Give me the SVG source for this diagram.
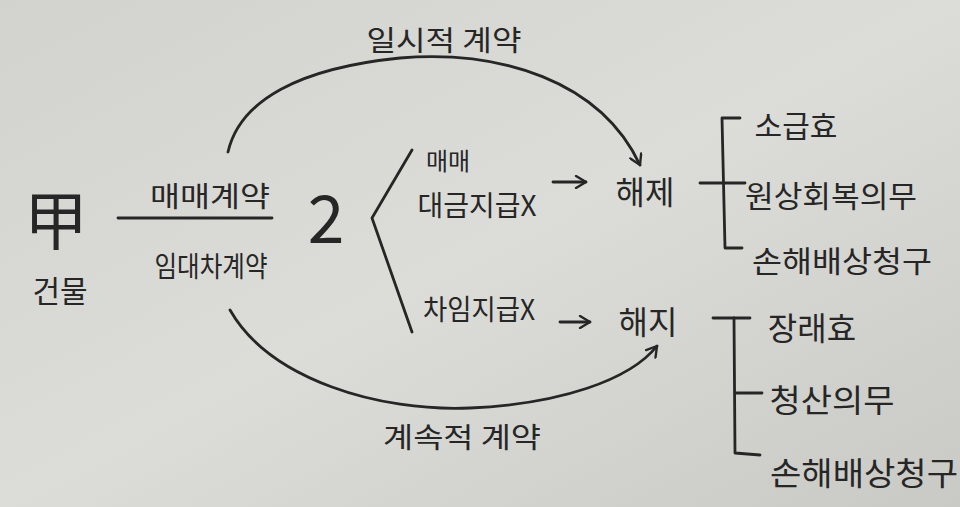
<svg xmlns="http://www.w3.org/2000/svg" width="960" height="507" viewBox="0 0 960 507">
<defs>
<linearGradient id="bg" x1="0" y1="0" x2="1" y2="1">
<stop offset="0" stop-color="#d2d2ce"/><stop offset="0.5" stop-color="#dcdcd8"/><stop offset="1" stop-color="#c9c9c5"/>
</linearGradient>
<marker id="chev" viewBox="0 0 14 14" refX="12" refY="7" markerWidth="14" markerHeight="14" markerUnits="userSpaceOnUse" orient="auto">
<polyline points="2,1 12,7 2,13" fill="none" stroke="#262626" stroke-width="2.4" stroke-linecap="round" stroke-linejoin="round"/>
</marker>
</defs>
<style>
.t{font-family:"Noto Sans CJK KR","Noto Sans",sans-serif;fill:#262626;font-weight:400}
.ln{fill:none;stroke:#262626;stroke-width:2.8;stroke-linecap:round;stroke-linejoin:round}
</style>
<rect width="960" height="507" fill="url(#bg)"/>
<g id="connectors">
<path class="ln" d="M228,152 C240,100 300,68 400,58 C500,50 600,80 640,165" marker-end="url(#chev)"/>
<path class="ln" d="M230,310 C270,380 380,412 470,408 C560,404 630,380 657,346" marker-end="url(#chev)"/>
<line class="ln" x1="118" y1="218" x2="272" y2="218"/>
<polyline class="ln" points="412,150 372,218 412,332"/>
<line class="ln" x1="553" y1="182" x2="586" y2="182" marker-end="url(#chev)"/>
<line class="ln" x1="560" y1="322" x2="590" y2="322" marker-end="url(#chev)"/>
<line class="ln" x1="700" y1="183" x2="745" y2="183"/>
<polyline class="ln" points="740,118 722,118 725,248 742,248"/>
<line class="ln" x1="713" y1="318" x2="750" y2="318"/>
<polyline class="ln" points="734,318 735,453 760,455"/>
<line class="ln" x1="736" y1="393" x2="762" y2="393"/>
</g>
<g id="label-temp"><text class="t" x="444" y="51" font-size="28" text-anchor="middle" textLength="155" lengthAdjust="spacingAndGlyphs">일시적 계약</text></g>
<g id="label-cont"><text class="t" x="462" y="448" font-size="28" text-anchor="middle" textLength="158" lengthAdjust="spacingAndGlyphs">계속적 계약</text></g>
<g id="node-gap"><text class="t" x="56" y="244" font-size="64" font-weight="300" text-anchor="middle">甲</text></g>
<g id="node-building"><text class="t" x="60" y="302" font-size="30" text-anchor="middle">건물</text></g>
<g id="node-sale"><text class="t" x="210" y="207" font-size="28" text-anchor="middle" textLength="120" lengthAdjust="spacingAndGlyphs">매매계약</text></g>
<g id="node-lease"><text class="t" x="211" y="277" font-size="28" text-anchor="middle" textLength="113" lengthAdjust="spacingAndGlyphs">임대차계약</text></g>
<g id="node-two"><text class="t" x="326" y="243" font-size="66" font-weight="300" text-anchor="middle">2</text></g>
<g id="node-sale-nopay"><text class="t" x="448" y="170" font-size="24" text-anchor="middle">매매</text>
<text class="t" x="477" y="216" font-size="28" text-anchor="middle" textLength="119" lengthAdjust="spacingAndGlyphs">대금지급X</text></g>
<g id="node-rent-nopay"><text class="t" x="479" y="320" font-size="28" text-anchor="middle" textLength="112" lengthAdjust="spacingAndGlyphs">차임지급X</text></g>
<g id="node-rescind"><text class="t" x="645" y="204" font-size="32" text-anchor="middle">해제</text></g>
<g id="node-terminate"><text class="t" x="648" y="334" font-size="32" text-anchor="middle">해지</text></g>
<g id="node-retro"><text class="t" x="796" y="137" font-size="30" text-anchor="middle">소급효</text></g>
<g id="node-restore"><text class="t" x="831" y="207" font-size="30" text-anchor="middle" textLength="172" lengthAdjust="spacingAndGlyphs">원상회복의무</text></g>
<g id="node-damages1"><text class="t" x="842" y="272" font-size="30" text-anchor="middle" textLength="180" lengthAdjust="spacingAndGlyphs">손해배상청구</text></g>
<g id="node-future"><text class="t" x="812" y="340" font-size="32" text-anchor="middle">장래효</text></g>
<g id="node-settle"><text class="t" x="832" y="412" font-size="32" text-anchor="middle" textLength="125" lengthAdjust="spacingAndGlyphs">청산의무</text></g>
<g id="node-damages2"><text class="t" x="864" y="485" font-size="32" text-anchor="middle" textLength="188" lengthAdjust="spacingAndGlyphs">손해배상청구</text></g>
</svg>
